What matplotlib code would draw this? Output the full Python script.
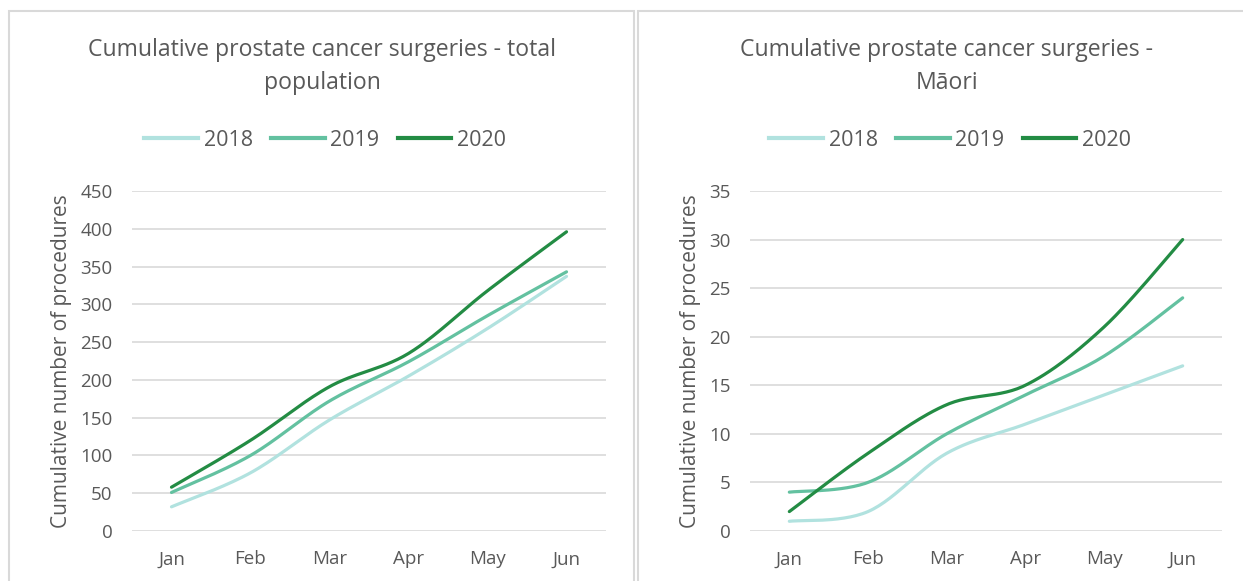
import numpy as np
import matplotlib
matplotlib.use('Agg')
import matplotlib.pyplot as plt
from matplotlib.patches import Rectangle
from matplotlib.lines import Line2D

# Data
months = ['Jan', 'Feb', 'Mar', 'Apr', 'May', 'Jun']
years = ['2018', '2019', '2020']
total_2018 = [32, 77, 147, 205, 268, 337]
total_2019 = [51, 100, 172, 224, 285, 343]
total_2020 = [58, 120, 191, 235, 318, 396]
maori_2018 = [1, 2, 8, 11, 14, 17]
maori_2019 = [4, 5, 10, 14, 18, 24]
maori_2020 = [2, 8, 13, 15, 21, 30]

colors = ['#B1E2DF', '#63C1A0', '#238C44']
text_col = '#595959'
grid_col = '#D9D9D9'

plt.rcParams['font.family'] = ['Open Sans', 'DejaVu Sans']


def smooth(y, n=30):
    # Excel-style smoothed line: cubic bezier with catmull-rom control points
    y = np.asarray(y, float)
    x = np.arange(len(y), dtype=float)
    pts = np.column_stack([x, y])
    out = [pts[0]]
    for i in range(len(pts) - 1):
        p0 = pts[max(i - 1, 0)]
        p1 = pts[i]
        p2 = pts[i + 1]
        p3 = pts[min(i + 2, len(pts) - 1)]
        c1 = p1 + (p2 - p0) / 6
        c2 = p2 - (p3 - p1) / 6
        t = np.linspace(0, 1, n)[1:, None]
        seg = ((1 - t) ** 3) * p1 + 3 * ((1 - t) ** 2) * t * c1 + 3 * (1 - t) * t ** 2 * c2 + t ** 3 * p2
        out.extend(seg)
    out = np.array(out)
    return out[:, 0], out[:, 1]


W, H = 1243, 581
fig = plt.figure(figsize=(W / 100, H / 100), dpi=100)

# panel borders
fig.patches.append(Rectangle((8.5 / W, -0.1), (634 - 8.5) / W, (H - 11 + 58) / H,
                             transform=fig.transFigure, fill=False, ec=grid_col, lw=1.5))
fig.patches.append(Rectangle((638 / W, -0.1), 0.5, (H - 11 + 58) / H,
                             transform=fig.transFigure, fill=False, ec=grid_col, lw=1.5))

panels = [
    dict(left=132, right=606, cx=322, title=['Cumulative prostate cancer surgeries - total', 'population'],
         series=[total_2018, total_2019, total_2020], ymax=450, step=50, leg_x=143),
    dict(left=750, right=1222, cx=947, title=['Cumulative prostate cancer surgeries -', 'Māori'],
         series=[maori_2018, maori_2019, maori_2020], ymax=35, step=5, leg_x=768),
]

for p in panels:
    ax = fig.add_axes([p['left'] / W, 50 / H, (p['right'] - p['left']) / W, 340 / H])
    for yr, vals, c in zip(years, p['series'], colors):
        xs, ys = smooth(vals)
        ax.plot(xs, ys, color=c, lw=2.3, solid_capstyle='round', label=yr)
    ax.set_xlim(-0.5, 5.5)
    ax.set_ylim(0, p['ymax'])
    ax.set_yticks(np.arange(0, p['ymax'] + 1, p['step']))
    ax.set_xticks(range(6))
    ax.set_xticklabels(months)
    ax.yaxis.grid(True, color=grid_col, lw=1.2)
    ax.set_axisbelow(True)
    for s in ax.spines.values():
        s.set_visible(False)
    ax.tick_params(length=0, labelsize=13.5, colors=text_col)
    ax.tick_params(axis='y', pad=14)
    ax.tick_params(axis='x', pad=14)
    ax.set_ylabel('Cumulative number of procedures', fontsize=15, color=text_col, labelpad=6)
    for line, ypx in zip(p['title'], [50, 83]):
        fig.text(p['cx'] / W, 1 - ypx / H, line, ha='center', va='center',
                 fontsize=16.6, color=text_col)
    handles = [Line2D([0], [0], color=c, lw=3) for c in colors]
    leg = fig.legend(handles, years, loc='center left',
                     bbox_to_anchor=(p['leg_x'] / W - 0.0145, 1 - 140 / H), ncol=3, frameon=False,
                     fontsize=15.5, handlelength=2.5, handletextpad=0.25, columnspacing=0.85,
                     labelcolor=text_col)

fig.savefig('out.png', dpi=100)
